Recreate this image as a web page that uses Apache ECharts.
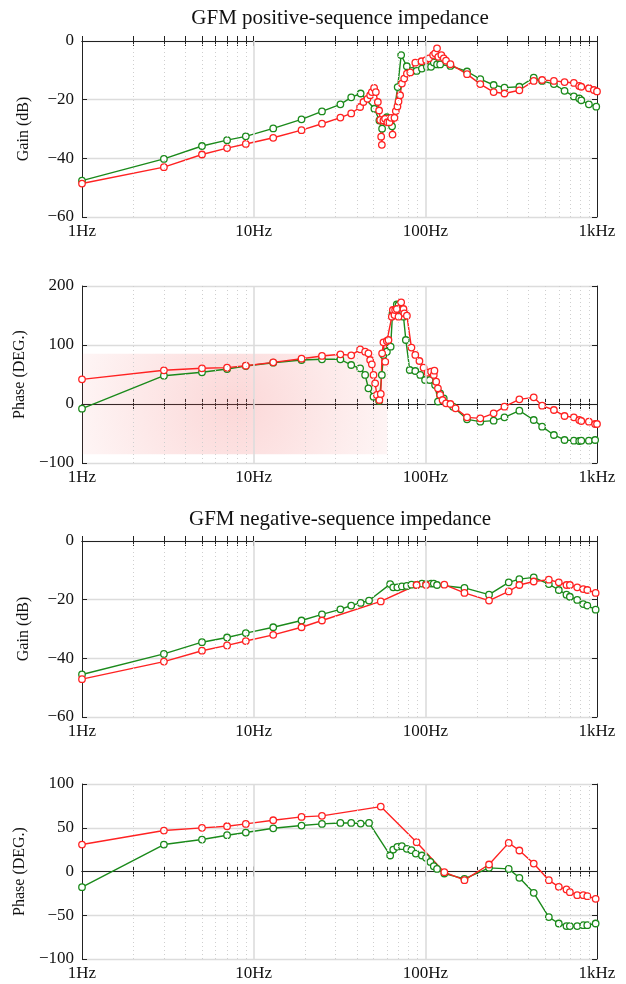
<!DOCTYPE html>
<html><head><meta charset="utf-8">
<script src="https://cdn.jsdelivr.net/npm/echarts@6/dist/echarts.min.js"></script>
<style>html,body{margin:0;padding:0;background:#fff}#c{width:626px;height:984px}</style>
</head><body><div id="c"></div>
<script>
// ---------------- DATA ----------------
const titles = ['GFM positive-sequence impedance', 'GFM negative-sequence impedance'];
const xTickLabels = {1: '1Hz', 10: '10Hz', 100: '100Hz', 1000: '1kHz'};

// Positive-sequence gain (dB)
const posGainGreenF = [1,3,5,7,9,13,19,25,32,37,42,50.5,54,56,59.7,62,64,69,72.3,78,83.5,89,95.5,102,108,112,117,122,140,175,209,250,289,353,428,479,561,647,733,788,810,897,990];
const posGainGreenV = [-47.6,-40.2,-35.8,-33.8,-32.5,-29.8,-26.7,-24.0,-21.6,-19.2,-17.9,-23.1,-27.1,-29.9,-26.0,-26.5,-29.1,-15.7,-4.8,-8.6,-10.2,-10.2,-9.4,-8.8,-8.8,-7.3,-8.0,-8.0,-8.5,-10.4,-13.0,-15.0,-15.9,-15.6,-12.5,-13.6,-14.7,-17.0,-18.9,-19.6,-20.2,-21.6,-22.4];
const posGainRedF = [1,3,5,7,9,13,19,25,32,37,41.7,43.6,46,47.7,48.8,50.3,51.5,52.9,53.8,54.6,55.3,55.8,57,58.3,60.1,61.8,63.2,64.4,66.1,67.3,68.8,69.8,71.3,73,75.3,78.1,81.7,87.4,95,101,105,111,114,117,119,124,128,132,140,175,209,250,289,353,428,479,561,647,733,788,810,897,959,1000];
const posGainRedV = [-48.6,-43.0,-38.7,-36.5,-35.1,-33.0,-30.4,-28.2,-26.1,-24.7,-22.5,-20.8,-19.7,-18.5,-17.4,-16.0,-17.4,-20.8,-23.7,-26.9,-32.6,-35.4,-27.1,-26.5,-27.7,-27.7,-26.2,-31.9,-26.2,-23.9,-22.3,-20.6,-18.5,-14.5,-12.8,-11.1,-10.7,-7.4,-6.9,-6.5,-5.9,-4.8,-4.2,-2.5,-5.4,-4.8,-5.9,-6.7,-7.9,-11.3,-14.7,-17.4,-17.9,-16.8,-13.6,-13.3,-13.6,-14.0,-14.3,-15.3,-15.6,-16.1,-16.7,-17.2];

// Positive-sequence phase (deg)
const posPhaseGreenF = [1,3,5,7,9,13,19,25,32,37,41.7,44.6,46.6,49.9,53.8,55.8,57,59.7,62.8,64.4,68.2,69.8,72.3,74.6,77,81.1,87.4,93.5,99.6,106,114,118.4,122,128,145,175,209,250,289,353,428,479,561,647,733,788,810,897,975];
const posPhaseGreenV = [-7.9,48,53.7,59.3,64.4,70,74.6,75.8,75.8,66.1,60.5,49.2,26.6,12.4,5.1,49.2,83.1,88.7,97.2,153.7,169,167.8,159.3,148,108.5,57.6,55.9,49.2,40.7,40.7,32.2,4.1,18.1,9.6,-4.5,-26,-29.9,-28.2,-22.6,-11.3,-27.1,-38.4,-52.5,-61,-62.1,-62.7,-62.1,-62.1,-61];
const posPhaseRedF = [1,3,5,7,9,13,19,25,32,37,41.7,44.6,46.6,47.7,48.8,49.9,51,52.2,54,55,56,57,58.4,59.7,61,63.8,64.7,66.1,66.7,68.2,69.8,72.3,74.6,75.5,78.1,83,87.4,92.4,97.7,103,108,112,113,115.7,118.4,122,126,132,140,150,175,209,250,289,353,428,479,561,647,733,788,810,897,975,1000];
const posPhaseRedV = [41.8,57.1,60.5,61.6,64.9,70.6,76.8,81.4,84.2,82.5,92.7,88.7,85.9,74.6,67.3,49.2,35.1,15.3,6.8,17,85.9,104.5,71.8,106.8,108.5,148,159.3,150.8,159.3,161,148,172.3,161,153.7,149.7,95.6,83.1,72.9,61.6,53.1,54.8,49.2,56.5,37.9,26.6,15.3,6.8,1.2,0,-7.3,-22.6,-24.3,-15.8,-4.5,7.9,11.3,-2.8,-10.2,-20.3,-22.6,-27.1,-28.8,-29.9,-33.9,-33.9];
const shadeFreq = [1, 60];      // shaded band, Hz
const shadePhase = [-85, 85];   // shaded band, deg

// Negative-sequence gain (dB)
const negGainGreenF = [1,3,5,7,9,13,19,25,32,37,42,47,62.4,65,68.7,73,78,83,89,95.5,101,108,112,117,169,235,306,353,428,524,599,664,695,767,832,878,982];
const negGainGreenV = [-45.5,-38.5,-34.5,-32.9,-31.4,-29.4,-27.1,-25.0,-23.3,-22.0,-21.1,-20.3,-14.7,-15.8,-15.8,-15.5,-15.3,-14.9,-15.0,-14.5,-14.7,-14.5,-14.5,-15.0,-16.0,-18.3,-14.1,-13.0,-12.4,-14.7,-16.7,-18.3,-19.0,-20.1,-21.5,-22.0,-23.4];
const negGainRedF = [1,3,5,7,9,13,19,25,55,89,101,129,169,235,306,353,428,524,599,664,695,767,832,878,982];
const negGainRedV = [-47.1,-41.1,-37.4,-35.6,-34.1,-32.0,-29.4,-27.1,-20.6,-15.0,-15.0,-14.9,-17.7,-20.3,-17.2,-15.0,-13.8,-13.2,-14.1,-15.0,-15.0,-15.8,-16.4,-16.7,-17.7];

// Negative-sequence phase (deg)
const negPhaseGreenF = [1,3,5,7,9,13,19,25,32,37,42,47,62.4,65,68.7,73,78,83,88,95.5,101,107,112,117,129,169,235,306,353,428,524,599,664,695,767,832,878,982];
const negPhaseGreenV = [-17.9,30.8,36.5,41.5,44.5,49.4,52.5,54.4,55.5,55.5,54.8,55.5,18.3,25.1,28.2,28.9,25.9,24.4,20.5,18.3,15.6,11.0,6.1,3.0,-2.3,-8.4,4.2,3.0,-7.2,-24.4,-52.1,-59.4,-62.4,-62.4,-62.4,-61.3,-61.3,-59.4];
const negPhaseRedF = [1,3,5,7,9,13,19,25,55,89,129,169,235,306,353,428,524,599,664,695,767,832,878,982];
const negPhaseRedV = [30.8,46.8,49.9,51.7,54.4,58.6,62.4,63.6,74.2,33.5,-0.8,-9.9,8.0,32.7,24.0,9.1,-9.9,-17.5,-20.5,-23.6,-27.0,-27.0,-28.2,-31.2];

// Axis ticks (log scale, 1 Hz .. 1 kHz)
const tickValues = [1,2,3,4,5,6,7,8,9,10,20,30,40,50,60,70,80,90,100,200,300,400,500,600,700,800,900,1000];
const minorValues = [2,3,4,5,6,7,8,9,20,30,40,50,60,70,80,90,200,300,400,500,600,700,800,900];
const majorValues = [10, 100];

// ---------------- CHART ----------------
const FONT = '"Liberation Serif","Times New Roman",serif';
const GREEN = '#1b8a1b', RED = '#ff2222', AXIS = '#222';
const zip = (f, v) => f.map((x, i) => [x, v[i]]);

const panels = [
  {top: 41, height: 176, y: {min: -60, max: 0, interval: 20, name: 'Gain (dB)'}, green: zip(posGainGreenF, posGainGreenV), red: zip(posGainRedF, posGainRedV)},
  {top: 286, height: 177, y: {min: -100, max: 200, interval: 100, name: 'Phase (DEG.)'}, green: zip(posPhaseGreenF, posPhaseGreenV), red: zip(posPhaseRedF, posPhaseRedV), shade: true},
  {top: 541, height: 176, y: {min: -60, max: 0, interval: 20, name: 'Gain (dB)'}, green: zip(negGainGreenF, negGainGreenV), red: zip(negGainRedF, negGainRedV)},
  {top: 784, height: 175, y: {min: -100, max: 100, interval: 50, name: 'Phase (DEG.)'}, green: zip(negPhaseGreenF, negPhaseGreenV), red: zip(negPhaseRedF, negPhaseRedV)}
];

const grid = [], xAxis = [], yAxis = [], series = [];
const fmtY = v => v < 0 ? '\u2212' + Math.abs(v) : String(v);

panels.forEach((p, i) => {
  grid.push({left: 82, right: 29, top: p.top, height: p.height, containLabel: false});
  const baseX = {
    type: 'log', logBase: 10, min: 1, max: 1000, gridIndex: i,
    axisLine: {show: true, lineStyle: {color: AXIS, width: 1}},
    axisTick: {show: true, inside: true, length: 5, customValues: tickValues, lineStyle: {color: AXIS, width: 1}},
    minorTick: {show: false},
    splitLine: {show: false}
  };
  xAxis.push(Object.assign({}, baseX, {
    position: 'bottom',
    axisLabel: {show: true, fontFamily: FONT, fontSize: 17, color: '#111', margin: 6,
      formatter: v => xTickLabels[Math.round(v)] || ''}
  }));
  xAxis.push(Object.assign({}, baseX, {
    position: 'top', axisLabel: {show: false}
  }));
  const baseY = {
    type: 'value', gridIndex: i, min: p.y.min, max: p.y.max, interval: p.y.interval,
    axisLine: {show: true, lineStyle: {color: AXIS, width: 1}},
    axisTick: {show: true, inside: true, length: 5, lineStyle: {color: AXIS, width: 1}},
  };
  yAxis.push(Object.assign({}, baseY, {
    position: 'left', name: p.y.name, nameLocation: 'middle', nameGap: 50,
    nameTextStyle: {fontFamily: FONT, fontSize: 16, color: '#111'},
    axisLabel: {show: true, fontFamily: FONT, fontSize: 17, color: '#111', margin: 8, formatter: fmtY},
    splitLine: {show: true, lineStyle: {color: '#dcdcdc', width: 1.3}}
  }));
  yAxis.push(Object.assign({}, baseY, {
    position: 'right', axisLabel: {show: false}, splitLine: {show: false}
  }));
  // minor dotted grid
  series.push({
    type: 'line', xAxisIndex: 2 * i, yAxisIndex: 2 * i, data: [], z: 1, silent: true,
    markLine: {silent: true, symbol: ['none', 'none'], label: {show: false},
      lineStyle: {color: '#cfcfcf', width: 1, type: [1, 3]},
      emphasis: {disabled: true},
      data: minorValues.map(v => ({xAxis: v}))}
  });
  // major decade grid
  series.push({
    type: 'line', xAxisIndex: 2 * i, yAxisIndex: 2 * i, data: [], z: 1, silent: true,
    markLine: {silent: true, symbol: ['none', 'none'], label: {show: false},
      lineStyle: {color: '#dcdcdc', width: 1.6, type: 'solid'},
      emphasis: {disabled: true},
      data: majorValues.map(v => ({xAxis: v}))}
  });
  const mk = (data, color, name) => ({
    type: 'line', name, xAxisIndex: 2 * i, yAxisIndex: 2 * i, data, z: 3,
    showAllSymbol: true, symbol: 'circle', symbolSize: 6.5,
    lineStyle: {color, width: 1.4},
    itemStyle: {color: '#ffffff', borderColor: color, borderWidth: 1.3},
    emphasis: {disabled: true}
  });
  series.push(mk(p.green, GREEN, 'green' + i));
  series.push(mk(p.red, RED, 'red' + i));
  if (p.shade) {
    series.push({
      type: 'line', xAxisIndex: 2 * i, yAxisIndex: 2 * i, data: [], z: 5, silent: true,
      markArea: {silent: true,
        itemStyle: {color: {type: 'radial', x: 0.5, y: 0.5, r: 1.6, colorStops: [
          {offset: 0, color: 'rgba(240,90,90,0.24)'},
          {offset: 1, color: 'rgba(240,90,90,0.06)'}]}},
        data: [[{xAxis: shadeFreq[0], yAxis: shadePhase[0]}, {xAxis: shadeFreq[1], yAxis: shadePhase[1]}]]}
    });
  }
});

const chart = echarts.init(document.getElementById('c'));
chart.setOption({
  animation: false,
  backgroundColor: '#fff',
  grid, xAxis, yAxis, series,
  graphic: [
    {type: 'text', x: 340, y: 18, style: {text: titles[0], font: '21px ' + FONT, fill: '#111', align: 'center', verticalAlign: 'middle'}},
    {type: 'text', x: 340, y: 519, style: {text: titles[1], font: '21px ' + FONT, fill: '#111', align: 'center', verticalAlign: 'middle'}}
  ]
});
</script></body></html>
